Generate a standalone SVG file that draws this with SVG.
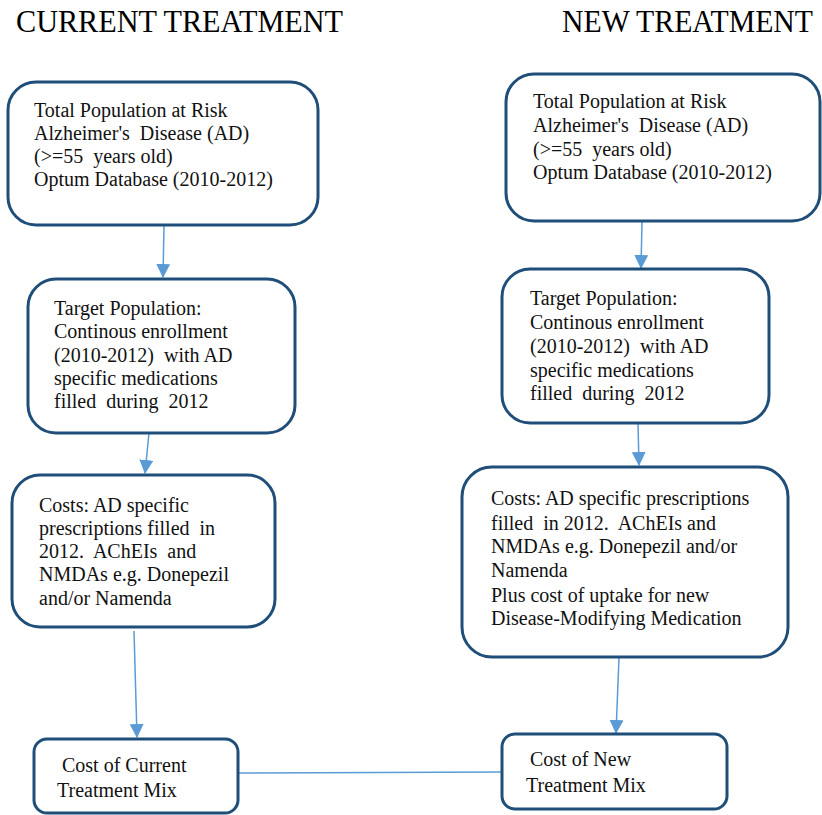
<svg xmlns="http://www.w3.org/2000/svg" width="822" height="815" viewBox="0 0 822 815">
<style>
.box{fill:#fff;stroke:#1f4e79;stroke-width:3}
.t{font-family:"Liberation Serif","Times New Roman",serif;font-size:20px;fill:#111;white-space:pre}
.title{font-family:"Liberation Serif","Times New Roman",serif;font-size:31px;fill:#000}
.c{stroke:#5b9bd5;stroke-width:1.5;fill:none}
</style>
<defs>
<marker id="ah" markerUnits="userSpaceOnUse" markerWidth="14" markerHeight="14" refX="13" refY="7" orient="auto">
<path d="M0,0 L14,7 L0,14 z" fill="#5b9bd5"/>
</marker>
</defs>
<text class="title" x="16" y="32" textLength="327" lengthAdjust="spacingAndGlyphs">CURRENT TREATMENT</text>
<text class="title" x="562" y="32" textLength="251" lengthAdjust="spacingAndGlyphs">NEW TREATMENT</text>

<g id="connectors">
<line class="c" x1="164" y1="226" x2="163" y2="277" marker-end="url(#ah)"/>
<line class="c" x1="149" y1="433" x2="145" y2="473" marker-end="url(#ah)"/>
<line class="c" x1="134" y1="631" x2="137" y2="737" marker-end="url(#ah)"/>
<line class="c" x1="642" y1="222" x2="641" y2="268" marker-end="url(#ah)"/>
<line class="c" x1="638" y1="424" x2="639" y2="465" marker-end="url(#ah)"/>
<line class="c" x1="619" y1="658" x2="616" y2="733" marker-end="url(#ah)"/>
<line class="c" x1="238" y1="773" x2="502" y2="772"/>
</g>

<g id="cur-total">
<rect class="box" x="8" y="82" width="310" height="143" rx="28"/>
<text class="t" x="34" y="117">Total Population at Risk</text>
<text class="t" x="34" y="140">Alzheimer's  Disease (AD)</text>
<text class="t" x="34" y="163">(&gt;=55  years old)</text>
<text class="t" x="34" y="186">Optum Database (2010-2012)</text>
</g>
<g id="cur-target">
<rect class="box" x="28" y="279" width="267" height="154" rx="28"/>
<text class="t" x="54" y="315">Target Population:</text>
<text class="t" x="54" y="338">Continous enrollment</text>
<text class="t" x="54" y="362">(2010-2012)  with AD</text>
<text class="t" x="54" y="385">specific medications</text>
<text class="t" x="54" y="408">filled  during  2012</text>
</g>
<g id="cur-costs">
<rect class="box" x="12" y="475" width="263" height="152" rx="28"/>
<text class="t" x="39" y="512">Costs: AD specific</text>
<text class="t" x="39" y="535">prescriptions filled  in</text>
<text class="t" x="39" y="558">2012.  AChEIs  and</text>
<text class="t" x="39" y="581">NMDAs e.g. Donepezil</text>
<text class="t" x="39" y="605">and/or Namenda</text>
</g>
<g id="cur-mix">
<rect class="box" x="34" y="739" width="204" height="74" rx="13"/>
<text class="t" x="62" y="772">Cost of Current</text>
<text class="t" x="57" y="797">Treatment Mix</text>
</g>

<g id="new-total">
<rect class="box" x="506" y="74" width="314" height="147" rx="28"/>
<text class="t" x="533" y="108">Total Population at Risk</text>
<text class="t" x="533" y="132">Alzheimer's  Disease (AD)</text>
<text class="t" x="533" y="156">(&gt;=55  years old)</text>
<text class="t" x="533" y="179">Optum Database (2010-2012)</text>
</g>
<g id="new-target">
<rect class="box" x="502" y="269" width="267" height="154" rx="28"/>
<text class="t" x="530" y="305">Target Population:</text>
<text class="t" x="530" y="329">Continous enrollment</text>
<text class="t" x="530" y="353">(2010-2012)  with AD</text>
<text class="t" x="530" y="377">specific medications</text>
<text class="t" x="530" y="400">filled  during  2012</text>
</g>
<g id="new-costs">
<rect class="box" x="462" y="467" width="326" height="190" rx="30"/>
<text class="t" x="491" y="505">Costs: AD specific prescriptions</text>
<text class="t" x="491" y="530">filled  in 2012.  AChEIs and</text>
<text class="t" x="491" y="553">NMDAs e.g. Donepezil and/or</text>
<text class="t" x="491" y="577">Namenda</text>
<text class="t" x="491" y="602">Plus cost of uptake for new</text>
<text class="t" x="491" y="625">Disease-Modifying Medication</text>
</g>
<g id="new-mix">
<rect class="box" x="502" y="734" width="225" height="75" rx="13"/>
<text class="t" x="530" y="766">Cost of New</text>
<text class="t" x="526" y="792">Treatment Mix</text>
</g>
</svg>
